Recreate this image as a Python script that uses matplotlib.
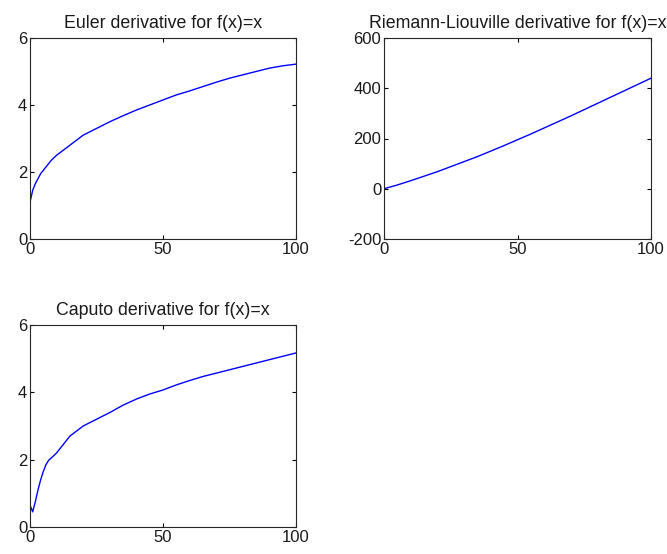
import matplotlib
matplotlib.use("Agg")
import matplotlib.pyplot as plt

plt.rcParams['font.family'] = ['Liberation Sans', 'DejaVu Sans']
plt.rcParams['axes.unicode_minus'] = False

euler_x = [0, 1, 2, 3, 4, 5, 6, 8, 10, 15, 20, 25, 30, 35, 40, 45, 50, 55, 60, 65, 70, 75, 80, 85, 90, 95, 100]
euler_y = [1.1, 1.45, 1.65, 1.8, 1.95, 2.05, 2.15, 2.35, 2.5, 2.8, 3.1, 3.3, 3.5, 3.68, 3.85, 4.0, 4.15, 4.3, 4.42, 4.55, 4.68, 4.8, 4.9, 5.0, 5.1, 5.17, 5.22]

rl_x = [0, 5, 10, 15, 20, 25, 30, 35, 40, 45, 50, 55, 60, 65, 70, 75, 80, 85, 90, 95, 100]
rl_y = [0, 15, 32, 50, 68, 88, 108, 128, 150, 172, 195, 218, 242, 266, 290, 315, 340, 365, 390, 415, 440]

cap_x = [0, 1, 2, 3, 4, 5, 6, 7, 8, 10, 15, 20, 25, 30, 35, 40, 45, 50, 55, 60, 65, 70, 75, 80, 85, 90, 95, 100]
cap_y = [0.65, 0.45, 0.75, 1.1, 1.4, 1.65, 1.85, 1.98, 2.05, 2.2, 2.7, 3.0, 3.2, 3.4, 3.62, 3.8, 3.95, 4.07, 4.22, 4.35, 4.47, 4.57, 4.67, 4.77, 4.87, 4.97, 5.07, 5.17]

titles = ["Euler derivative for f(x)=x", "Riemann-Liouville derivative for f(x)=x", "Caputo derivative for f(x)=x"]

W, H = 667, 554
fig = plt.figure(figsize=(W/100, H/100), dpi=100)

def make_ax(l, r, t, b):
    return fig.add_axes([l/W, 1 - b/H, (r-l)/W, (b-t)/H])

axes = [make_ax(30, 296, 38, 239), make_ax(384, 651, 38, 239), make_ax(30, 296, 325, 527)]
data = [(euler_x, euler_y, (0, 6), [0, 2, 4, 6]),
        (rl_x, rl_y, (-200, 600), [-200, 0, 200, 400, 600]),
        (cap_x, cap_y, (0, 6), [0, 2, 4, 6])]

for ax, (x, y, yl, yt), title in zip(axes, data, titles):
    ax.plot(x, y, color='#0000ff', lw=1.0)
    ax.set_xlim(0, 100)
    ax.set_ylim(*yl)
    ax.set_xticks([0, 50, 100])
    ax.set_yticks(yt)
    ax.tick_params(direction='in', top=True, right=True, length=3, width=0.8,
                   labelsize=12, pad=2, labelcolor='#1a1a1a')
    for s in ax.spines.values():
        s.set_linewidth(0.8)
        s.set_color('#262626')
    ax.set_title(title, fontsize=12.8, pad=7, color='#1a1a1a')

fig.savefig("out.png", dpi=100, facecolor='white')
